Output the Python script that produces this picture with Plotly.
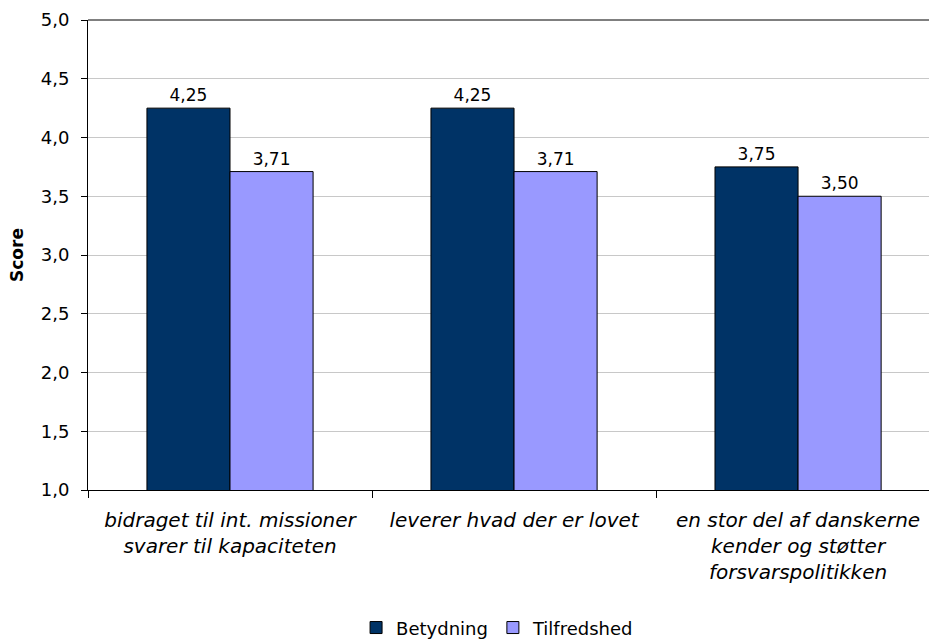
import plotly.graph_objects as go

categories = [
    "bidraget til int. missioner<br>svarer til kapaciteten",
    "leverer hvad der er lovet",
    "en stor del af danskerne<br>kender og støtter<br>forsvarspolitikken",
]
betydning = [4.25, 4.25, 3.75]
tilfredshed = [3.71, 3.71, 3.50]
y_ticks = [1.0, 1.5, 2.0, 2.5, 3.0, 3.5, 4.0, 4.5, 5.0]

font_family = "DejaVu Sans, Verdana, sans-serif"

def comma(v, d):
    return f"{v:.{d}f}".replace(".", ",")

fig = go.Figure()
fig.add_trace(go.Bar(
    x=categories, y=betydning, name="Betydning",
    marker=dict(color="#003366", line=dict(color="#000000", width=1)),
    text=[comma(v, 2) for v in betydning],
    textposition="outside", cliponaxis=False,
    textfont=dict(size=17, color="#000000", family=font_family),
))
fig.add_trace(go.Bar(
    x=categories, y=tilfredshed, name="Tilfredshed",
    marker=dict(color="#9999FF", line=dict(color="#000000", width=1)),
    text=[comma(v, 2) for v in tilfredshed],
    textposition="outside", cliponaxis=False,
    textfont=dict(size=17, color="#000000", family=font_family),
))

fig.update_layout(
    width=929, height=640,
    margin=dict(l=88, r=0, t=20, b=150),
    paper_bgcolor="white", plot_bgcolor="white",
    font=dict(family=font_family, size=18, color="#000000"),
    barmode="group", bargap=0.415, bargroupgap=0,
    showlegend=True,
    legend=dict(orientation="h", x=0.487, xanchor="center",
                yref="container", y=0.019, yanchor="middle",
                font=dict(size=18, family=font_family), traceorder="normal",
                itemwidth=30, tracegroupgap=0),
    xaxis=dict(
        type="category", range=[-0.5, 2.461],
        showline=True, linecolor="#000000", linewidth=1,
        ticks="outside", tickson="boundaries", ticklen=7, tickcolor="#000000",
        tickfont=dict(size=20, family=font_family, style="italic"),
        ticklabelstandoff=12,
        showgrid=False, mirror=False, automargin=False,
    ),
    yaxis=dict(
        range=[1.0, 5.0], tickvals=y_ticks,
        ticktext=[comma(v, 1) for v in y_ticks],
        showline=True, linecolor="#000000", linewidth=1,
        ticks="outside", ticklen=6, tickcolor="#000000",
        ticklabelstandoff=8,
        showgrid=True, gridcolor="#C8C8C8", gridwidth=1,
        tickfont=dict(size=18, family=font_family),
        title=dict(text="<b>Score</b>", font=dict(size=17, family=font_family), standoff=12),
        zeroline=False, automargin=False,
    ),
)
# top border line of plot area
fig.add_shape(type="line", xref="paper", yref="paper", x0=0, x1=1, y0=1, y1=1,
              line=dict(color="#000000", width=1))

fig.write_html("out.html", config={"displayModeBar": False},
               post_script="document.body.style.margin='0';")
